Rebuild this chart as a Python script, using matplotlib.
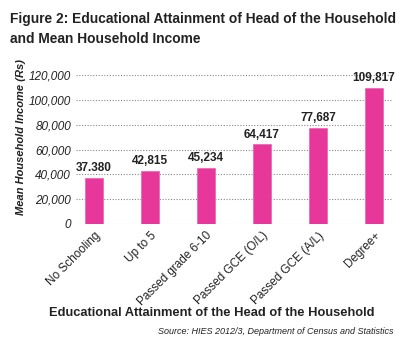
import matplotlib
matplotlib.use("Agg")
import matplotlib.pyplot as plt
from matplotlib.ticker import FuncFormatter

categories = ["No Schooling", "Up to 5", "Passed grade 6-10",
              "Passed GCE (O/L)", "Passed GCE (A/L)", "Degree+"]
values = [37380, 42815, 45234, 64417, 77687, 109817]
value_labels = ["37.380", "42,815", "45,234", "64,417", "77,687", "109,817"]
yticks = [0, 20000, 40000, 60000, 80000, 100000, 120000]

plt.rcParams["font.family"] = ["Liberation Sans", "DejaVu Sans"]

pink = "#E8379A"
ink = "#222222"

fig = plt.figure(figsize=(4.0, 3.45), dpi=100)
ax = fig.add_axes([76 / 400, 1 - 224 / 345, (392 - 76) / 400, (224 - 75) / 345])

x = list(range(len(categories)))
ax.bar(x, values, width=0.33, color=pink, edgecolor="#F06AB4", linewidth=0.6, zorder=3)
for xi, v, lab in zip(x, values, value_labels):
    ax.text(xi, v + 5200, lab, ha="center", va="baseline", fontsize=8.5,
            fontweight="bold", color=ink)

ax.set_xlim(-0.32, 5.32)
ax.set_ylim(0, 120000)
ax.set_yticks(yticks)
ax.yaxis.set_major_formatter(FuncFormatter(lambda v, p: f"{int(v):,}"))
ax.grid(axis="y", linestyle=(0, (1, 1.5)), color="#888888", linewidth=0.8, zorder=0)
for s in ax.spines.values():
    s.set_visible(False)
ax.tick_params(axis="both", length=0)
ax.tick_params(axis="y", pad=3.5)
for t in ax.get_yticklabels():
    t.set_fontstyle("italic")
    t.set_fontsize(8.5)
    t.set_color(ink)

ax.set_xticks(x)
ax.set_xticklabels(categories, rotation=45, ha="right", rotation_mode="anchor",
                   fontsize=8.5, color=ink)
ax.tick_params(axis="x", pad=4)

fig.text(21 / 400, 1 - 137 / 345, "Mean Household Income (Rs)", rotation=90,
         ha="center", va="center", fontsize=8, fontweight="bold",
         fontstyle="italic", color=ink)

fig.text(0.025, 1 - 12 / 345,
         "Figure 2: Educational Attainment of Head of the Household\nand Mean Household Income",
         ha="left", va="top", fontsize=9.9, fontweight="bold", color=ink,
         linespacing=1.55)

fig.text(0.53, 1 - 313 / 345, "Educational Attainment of the Head of the Household",
         ha="center", va="center", fontsize=9.3, fontweight="bold", color=ink)
fig.text(0.983, 1 - 332 / 345, "Source: HIES 2012/3, Department of Census and Statistics",
         ha="right", va="center", fontsize=6.5, fontstyle="italic", color=ink)

fig.savefig("out.png", dpi=100, facecolor="white")
